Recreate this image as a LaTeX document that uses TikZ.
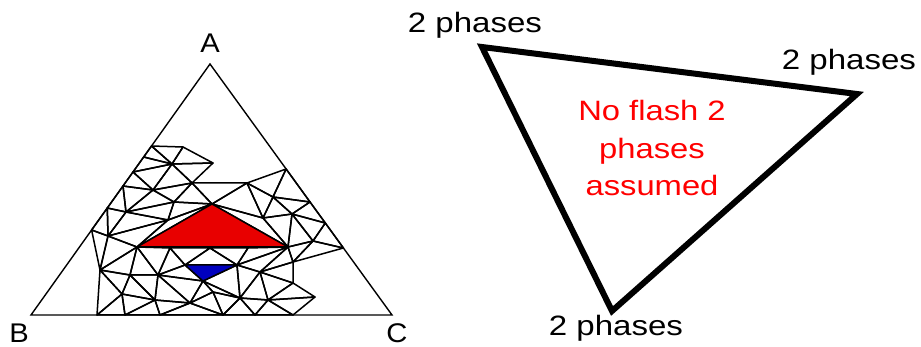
\documentclass[tikz,border=0pt]{standalone}
\usepackage{fontspec}
\setmainfont{Liberation Sans}
\begin{document}
\begin{tikzpicture}[x=1pt,y=-1pt,
  mesh/.style={draw=black,line width=1.5pt,line join=round},
  outer/.style={draw=black,line width=1.4pt},
  thick tri/.style={draw=black,line width=6pt,line join=miter},
  corner/.style={font=\fontsize{27}{32}\selectfont,anchor=base,inner sep=0pt,xscale=1.08},
  phase/.style={font=\fontsize{28}{34}\selectfont,anchor=base,inner sep=0pt,xscale=1.18},
  note/.style={font=\fontsize{28}{37.5}\selectfont,text=red,align=center,inner sep=0pt,xscale=1.17}]
\useasboundingbox (0,0) rectangle (921,347);
% big triangle
\coordinate (VA) at (210,64);
\coordinate (VB) at (31,315);
\coordinate (VC) at (392,315);
% mesh vertices
\coordinate (L1) at (151.5,146);
\coordinate (L2) at (143.7,157);
\coordinate (L3) at (133,172);
\coordinate (L4) at (123,186);
\coordinate (L5) at (107.3,208);
\coordinate (L6) at (91.6,230);
\coordinate (T2) at (183,147);
\coordinate (T3) at (213,163);
\coordinate (T4) at (192,183);
\coordinate (I1) at (172,164);
\coordinate (I3) at (153,190);
\coordinate (I4) at (126,212);
\coordinate (I5) at (174,202);
\coordinate (I6) at (168,220);
\coordinate (I7) at (108,236);
\coordinate (R1) at (137,247);
\coordinate (R2) at (212,204);
\coordinate (R3) at (288,247);
\coordinate (b5) at (247,183);
\coordinate (b6) at (286.1,169);
\coordinate (b7) at (310,202);
\coordinate (b8) at (325.3,223);
\coordinate (b9) at (343.4,248);
\coordinate (J1) at (273,197);
\coordinate (J2) at (292,214);
\coordinate (J3) at (263,218);
\coordinate (J4) at (313,241);
\coordinate (b10) at (293,262);
\coordinate (b11) at (293,283);
\coordinate (b12) at (315,297);
\coordinate (b13) at (293,315);
\coordinate (LB) at (100,270);
\coordinate (Q1) at (97,315);
\coordinate (Q2) at (125,315);
\coordinate (Q3) at (160,315);
\coordinate (Q4) at (223,315);
\coordinate (Q5) at (255,315);
\coordinate (K1) at (170,248);
\coordinate (K2) at (210,248);
\coordinate (K3) at (248,248);
\coordinate (B1) at (185,265);
\coordinate (B2) at (237,265);
\coordinate (B3) at (203,281);
\coordinate (M1) at (130,275);
\coordinate (M2) at (158,275);
\coordinate (M3) at (122,294);
\coordinate (M4) at (155,300);
\coordinate (M5) at (190,303);
\coordinate (M6) at (213,292);
\coordinate (M7) at (260,272);
\coordinate (M8) at (240,298);
\coordinate (M9) at (268,300);
% mesh triangles
\foreach \a/\b/\c in {L1/T2/I1, T2/T3/I1, T3/T4/I1, L1/L2/I1, L2/L3/I1, L3/I3/I1,
  I1/I3/T4, L3/L4/I3, L4/L5/I4, L4/I4/I3, I3/I4/I5, I3/I5/T4, T4/I5/R2, T4/b5/R2,
  I4/I5/I6, I5/I6/R2, I6/R1/R2, L5/L6/I7, L5/I7/I4, I4/I7/I6, I7/R1/I6,
  R2/b5/J3, b5/b6/J1, b5/J1/J3, b6/b7/J1, J1/b7/J2, J1/J2/J3, b7/b8/J2, J2/b8/J4,
  b8/b9/J4, J3/J2/R3, J2/J4/R3, R2/J3/R3,
  L6/I7/LB, I7/R1/LB, LB/R1/M1, R1/K1/M2, R1/M2/M1, K1/B1/M2, K1/K2/B1, K2/B2/B1,
  K2/K3/B2, K3/R3/B2, R3/M7/B2, R3/b10/M7, R3/J4/b10, J4/b9/b10, b10/b11/M7,
  M7/b11/M9, b11/b12/M9, b12/b13/M9, M9/b13/Q5, M8/M9/Q5, M7/M9/M8, B2/M7/M8,
  B2/M8/B3, B3/M8/M6, M6/M8/Q4, M8/Q5/Q4, B1/B3/M2, M2/B3/M5, B3/M6/M5, M6/Q4/M5,
  M5/Q4/Q3, M4/M5/Q3, M2/M5/M4, M1/M2/M4, M1/M4/M3, LB/M1/M3, LB/M3/Q1, M3/Q1/Q2,
  M3/Q2/M4, M4/Q2/Q3}
  \draw[mesh] (\a) -- (\b) -- (\c) -- cycle;
\filldraw[mesh,fill={rgb,255:red,232;green,0;blue,0}] (R1) -- (R2) -- (R3) -- cycle;
\filldraw[mesh,fill={rgb,255:red,0;green,0;blue,190}] (B1) -- (B2) -- (B3) -- cycle;
\draw[outer] (VA) -- (VB) -- (VC) -- cycle;
% corner labels
\node[corner] (labA) at (210,53) {A};
\node[corner] (labB) at (19,342) {B};
\node[corner] (labC) at (397,342) {C};
% right triangle
\coordinate (P1) at (482,47);
\coordinate (P2) at (857,94);
\coordinate (P3) at (612,311);
\draw[thick tri] (P1) -- (P2) -- (P3) -- cycle;
\node[phase] (ph1) at (475,33) {2 phases};
\node[phase] (ph2) at (849,70) {2 phases};
\node[phase] (ph3) at (616,335) {2 phases};
\node[note] (nf) at (652,148) {No flash 2\\phases\\assumed};
\end{tikzpicture}
\end{document}
